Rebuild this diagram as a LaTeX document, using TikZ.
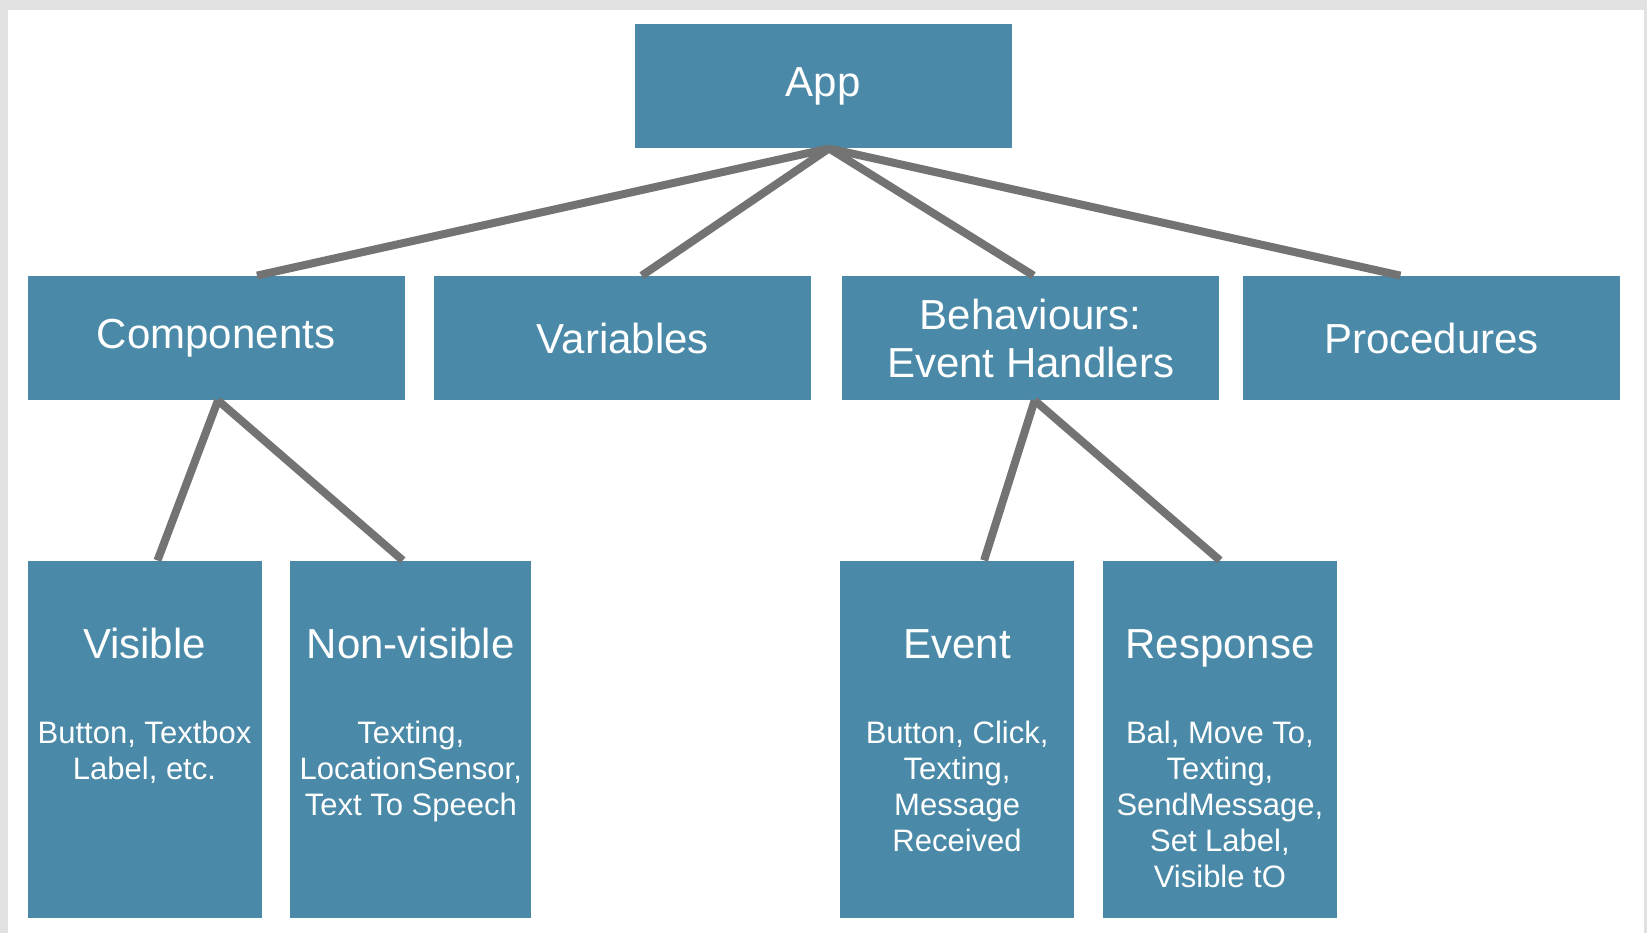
\documentclass[tikz,border=0pt]{standalone}
\usepackage{fontspec}
\setmainfont{Liberation Sans}
\usepackage{xcolor}
\usepackage{tikz}
\usetikzlibrary{positioning}
\definecolor{boxblue}{HTML}{4A8AA8}
\definecolor{linkgray}{HTML}{737373}
\definecolor{framegray}{HTML}{E1E1E1}
\tikzstyle{topic} = [rectangle, fill=boxblue, text=white, minimum width=188.5pt, minimum height=62pt, inner sep=0pt, align=center, font=\fontsize{21}{24}\selectfont]
\tikzstyle{leaf} = [rectangle, fill=boxblue, minimum width=117pt, minimum height=178.5pt, inner sep=0pt]
\tikzstyle{leaftitle} = [text=white, inner sep=0pt, anchor=base, font=\fontsize{21}{24}\selectfont]
\tikzstyle{leafitems} = [text=white, inner sep=0pt, anchor=north, align=center, font=\fontsize{15.5}{18}\selectfont]
\tikzstyle{link} = [line width=4pt, linkgray]

\begin{document}
\begin{tikzpicture}
    % frame
    \fill [framegray] (0,0) rectangle (823.5pt,-466.5pt);
    \fill [white] (4pt,-5pt) rectangle (822pt,-466.5pt);
    \useasboundingbox (0,0) rectangle (823.5pt,-466.5pt);

    \node (app) [topic] at (411.5pt,-43pt) {App};

    \node (comp) [topic] at (108pt,-169pt) {Components};
    \node (vars) [topic, right = 14.5pt of comp] {Variables};
    \node (beh) [topic, right = 15pt of vars] {Behaviours:\\Event Handlers};
    \node (proc) [topic, right = 11.5pt of beh] {Procedures};

    \node (vis) [leaf, below = 80pt of comp.south west, anchor=north west] {};
    \node (nvis) [leaf, minimum width=120.5pt, right = 14pt of vis] {};
    \node (evt) [leaf, below = 80pt of beh.south west, anchor=north west, xshift=-1pt] {};
    \node (resp) [leaf, right = 14pt of evt] {};

    % titles and examples inside the tall boxes
    \node (vist) [below = 49pt of vis.north, leaftitle] {Visible};
    \node (visi) [below = 80pt of vis.north, leafitems] {Button, Textbox\\Label, etc.};
    \node (nvist) [below = 49pt of nvis.north, leaftitle] {Non-visible};
    \node (nvisi) [below = 80pt of nvis.north, leafitems] {Texting,\\LocationSensor,\\Text To Speech};
    \node (evtt) [below = 49pt of evt.north, leaftitle] {Event};
    \node (evti) [below = 80pt of evt.north, leafitems] {Button, Click,\\Texting,\\Message\\Received};
    \node (respt) [below = 49pt of resp.north, leaftitle] {Response};
    \node (respi) [below = 80pt of resp.north, leafitems] {Bal, Move To,\\Texting,\\SendMessage,\\Set Label,\\Visible tO};

    \draw [link] ([xshift=3pt]app.south) -- ([xshift=20.5pt]comp.north);
    \draw [link] ([xshift=3pt]app.south) -- ([xshift=9.5pt]vars.north);
    \draw [link] ([xshift=3pt]app.south) -- ([xshift=1.5pt]beh.north);
    \draw [link] ([xshift=3pt]app.south) -- ([xshift=-15.5pt]proc.north);
    \draw [link] ([xshift=1pt]comp.south) -- ([xshift=6.5pt]vis.north);
    \draw [link] ([xshift=1pt]comp.south) -- ([xshift=-4pt]nvis.north);
    \draw [link] ([xshift=2pt]beh.south) -- ([xshift=13.5pt]evt.north);
    \draw [link] ([xshift=2pt]beh.south) -- (resp.north);
\end{tikzpicture}
\end{document}
